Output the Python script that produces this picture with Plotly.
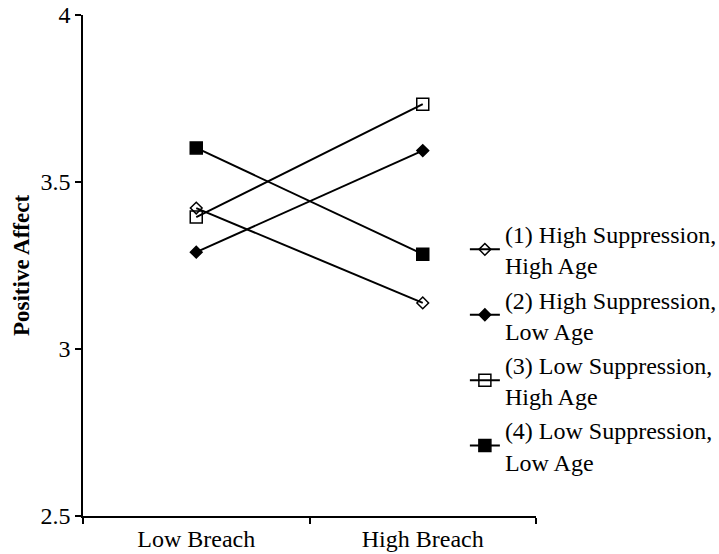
import plotly.graph_objects as go

categories = ["Low Breach", "High Breach"]
series_names = [
    "(1) High Suppression,<br>High Age",
    "(2) High Suppression,<br>Low Age",
    "(3) Low Suppression,<br>High Age",
    "(4) Low Suppression,<br>Low Age",
]
s1 = [3.422, 3.138]
s2 = [3.290, 3.594]
s3 = [3.395, 3.733]
s4 = [3.602, 3.284]
y_ticks = [2.5, 3, 3.5, 4]

values = [s1, s2, s3, s4]
symbols = ["diamond-open", "diamond", "square-open", "square"]
sizes = [9, 9, 12, 12]

FONT = "Liberation Serif, Times New Roman, serif"

fig = go.Figure()
for name, vals, sym, sz in zip(series_names, values, symbols, sizes):
    fig.add_trace(go.Scatter(
        x=categories, y=vals, name=name, mode="lines+markers",
        line=dict(color="black", width=2),
        marker=dict(symbol=sym, size=sz, color="black",
                    line=dict(color="black", width=1.5)),
    ))

fig.update_layout(
    width=719, height=554,
    margin=dict(l=83, r=183, t=15, b=38, autoexpand=False),
    paper_bgcolor="white", plot_bgcolor="white",
    font=dict(family=FONT, size=24, color="black"),
    showlegend=True,
    legend=dict(x=0.843, xanchor="left", y=0.336, yanchor="middle",
                bgcolor="rgba(0,0,0,0)", font=dict(size=24),
                tracegroupgap=0),
)
fig.update_xaxes(
    type="category", range=[-0.5, 1.5], tickson="boundaries",
    showline=True, linecolor="black", linewidth=1.5,
    ticks="outside", ticklen=6, tickcolor="black", tickwidth=1.5,
    showgrid=False, zeroline=False, automargin=False,
)
fig.update_yaxes(
    range=[2.5, 4], tickvals=y_ticks,
    showline=True, linecolor="black", linewidth=1.5,
    ticks="outside", ticklen=6, tickcolor="black", tickwidth=1.5,
    showgrid=False, zeroline=False, automargin=False,
    title=dict(text="<b>Positive Affect</b>", font=dict(size=23), standoff=4),
)

fig.write_html(
    "out.html",
    config={"displayModeBar": False},
    post_script="document.body.style.margin='0';document.body.style.padding='0';",
)
